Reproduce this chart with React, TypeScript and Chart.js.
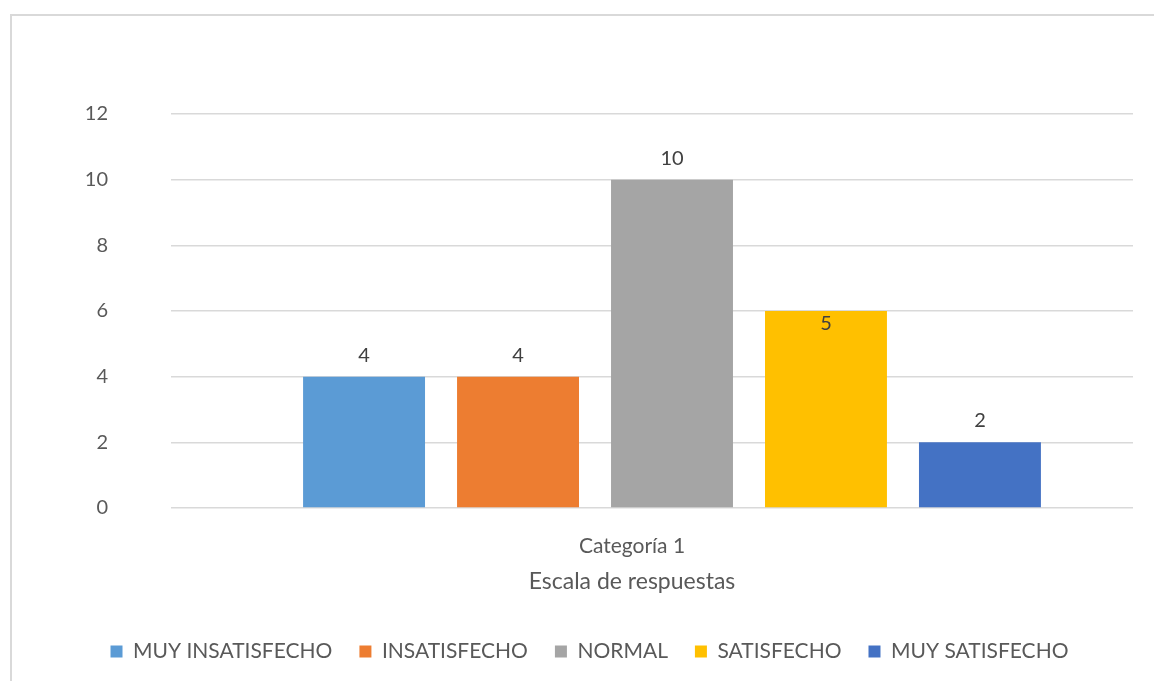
import React, { useEffect, useRef } from "react";
import { Chart, registerables } from "chart.js";

Chart.register(...registerables);

const categories = ["Categoría 1"];
const seriesNames = ["MUY INSATISFECHO", "INSATISFECHO", "NORMAL", "SATISFECHO", "MUY SATISFECHO"];
const seriesValues = [4, 4, 10, 6, 2];
const dataLabels = ["4", "4", "10", "5", "2"];
const seriesColors = ["#5B9BD5", "#ED7D31", "#A5A5A5", "#FFC000", "#4472C4"];
const yMin = 0;
const yMax = 12;
const yStep = 2;
const xAxisTitle = "Escala de respuestas";

const FONT = "Lato, 'Open Sans', sans-serif";
const TEXT_COLOR = "#595959";
const LABEL_COLOR = "#404040";

const dataLabelPlugin = {
  id: "dataLabelPlugin",
  afterDatasetsDraw(chart: any) {
    const ctx = chart.ctx;
    ctx.save();
    ctx.font = `20px ${FONT}`;
    ctx.fillStyle = LABEL_COLOR;
    ctx.textAlign = "center";
    ctx.textBaseline = "alphabetic";
    chart.data.datasets.forEach((ds: any, i: number) => {
      const meta = chart.getDatasetMeta(i);
      meta.data.forEach((bar: any, j: number) => {
        const label = dataLabels[i];
        const value = ds.data[j];
        const inside = Number(label) < value;
        const y = inside ? bar.y + 19 : bar.y - 15;
        ctx.fillText(label, bar.x, y);
      });
    });
    ctx.restore();
  },
};

const axisTitlePlugin = {
  id: "axisTitlePlugin",
  afterDraw(chart: any) {
    const ctx = chart.ctx;
    const xs = chart.scales.x;
    const px = xs.getPixelForTick(0) + (xs.options.ticks.labelOffset || 0);
    ctx.save();
    ctx.font = `23px ${FONT}`;
    ctx.fillStyle = TEXT_COLOR;
    ctx.textAlign = "center";
    ctx.textBaseline = "alphabetic";
    ctx.fillText(xAxisTitle, px, xs.top + 81);
    ctx.restore();
  },
};

export default function App() {
  const canvasRef = useRef<HTMLCanvasElement | null>(null);

  useEffect(() => {
    if (!canvasRef.current) return;
    const chart = new Chart(canvasRef.current, {
      type: "bar",
      data: {
        labels: categories,
        datasets: seriesNames.map((name, i) => ({
          label: name,
          data: [seriesValues[i]],
          backgroundColor: seriesColors[i],
          borderWidth: 0,
          categoryPercentage: 0.835,
          barPercentage: 0.792,
        })),
      },
      options: {
        responsive: false,
        animation: false,
        layout: { padding: { left: 46, right: 21, top: 114, bottom: 9 } },
        plugins: {
          tooltip: { enabled: false },
          title: { display: false },
          legend: {
            position: "bottom",
            labels: {
              boxWidth: 12,
              boxHeight: 12,
              padding: 27,
              color: TEXT_COLOR,
              font: { family: FONT, size: 21 },
            },
          },
        },
        scales: {
          x: {
            grid: { display: false },
            border: { display: false },
            ticks: {
              color: TEXT_COLOR,
              font: { family: FONT, size: 21 },
              padding: 18,
              labelOffset: -40,
            },
            afterFit(scale: any) {
              scale.height = 106;
            },
          },
          y: {
            min: yMin,
            max: yMax,
            border: { display: false },
            grid: {
              color: "#d9d9d9",
              lineWidth: 1.5,
              drawTicks: true,
              tickLength: 40,
            },
            ticks: {
              stepSize: yStep,
              color: TEXT_COLOR,
              font: { family: FONT, size: 20 },
              padding: 63,
            },
            afterFit(scale: any) {
              scale.width = 165;
            },
          },
        },
      },
      plugins: [dataLabelPlugin, axisTitlePlugin],
    });
    return () => chart.destroy();
  }, []);

  return (
    <div style={{ position: "fixed", left: 0, top: 0, width: 1154, height: 681, overflow: "hidden", background: "#fff" }}>
      <div
        style={{
          position: "absolute",
          left: 10,
          top: 14,
          width: 1200,
          height: 720,
          borderLeft: "2px solid #d9d9d9",
          borderTop: "2px solid #d9d9d9",
        }}
      />
      <canvas
        ref={canvasRef}
        width={1154}
        height={681}
        style={{ position: "absolute", left: 0, top: 0, width: 1154, height: 681 }}
      />
    </div>
  );
}
